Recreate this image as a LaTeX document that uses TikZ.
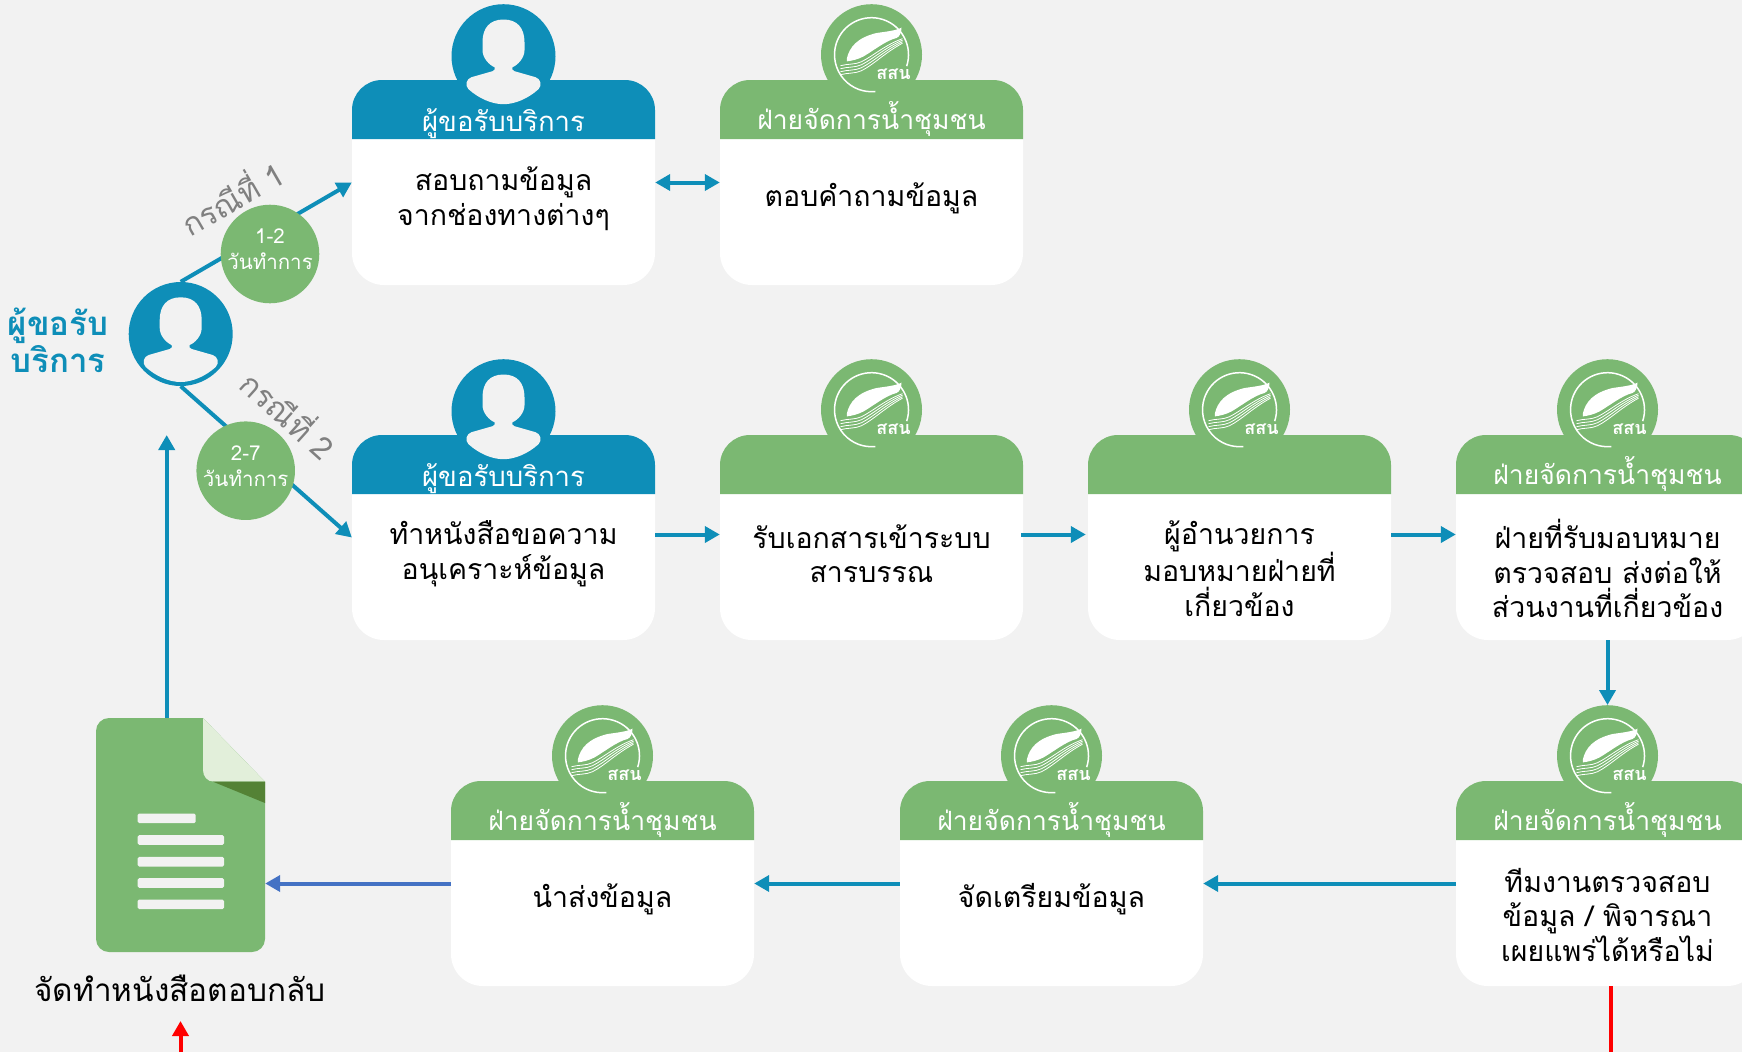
\documentclass[tikz,border=0pt]{standalone}
\usepackage{fontspec}
\setmainfont[Script=Thai]{Loma}
\usepackage{tikz}
\usetikzlibrary{arrows.meta,calc}
\definecolor{usercol}{HTML}{0E8EB8}
\definecolor{leafcol}{HTML}{7BB872}
\definecolor{foldcol}{HTML}{548235}
\definecolor{pagecol}{HTML}{E2EFDA}
\definecolor{bgcol}{HTML}{F2F2F2}
\definecolor{backcol}{HTML}{4472C4}
\tikzset{
  x=1pt,y=1pt,
  flow/.style={draw=usercol,line width=4pt,-{Triangle[length=15pt,width=16pt]}},
  cardbox/.style={fill=white,rounded corners=32pt,minimum width=303pt,minimum height=205pt,inner sep=0pt},
  usertitle/.style={text=white,anchor=base,font=\fontsize{27.5}{30}\selectfont},
  leaftitle/.style={text=white,anchor=base,yshift=1.5pt,font=\fontsize{26.5}{30}\selectfont},
  body/.style={text=black,align=center,font=\fontsize{28.5}{34.5}\selectfont},
  userball/.style={circle,fill=usercol,minimum size=104pt,inner sep=0pt},
  leafball/.style={circle,fill=leafcol,minimum size=101pt,inner sep=0pt},
  dayball/.style={circle,fill=leafcol,minimum size=98pt,inner sep=0pt,text depth=9pt,text=white,align=center,font=\fontsize{20.5}{26}\selectfont},
  caselabel/.style={text=black!50,font=\fontsize{31}{32}\selectfont},
  usericon/.pic={
    \fill[bgcol] (0,36.7) .. controls (14,36.7) and (21,28) .. (21,14) -- (21,6)
      .. controls (21,-2) and (14,-9) .. (9,-11) .. controls (8,-13) and (9,-14) .. (11,-15)
      -- (32,-21) .. controls (37,-22.5) and (39,-29) .. (35,-33)
      .. controls (25,-42) and (12,-48) .. (0,-48)
      .. controls (-12,-48) and (-25,-42) .. (-35,-33)
      .. controls (-39,-29) and (-37,-22.5) .. (-32,-21) -- (-11,-15)
      .. controls (-9,-14) and (-8,-13) .. (-9,-11) .. controls (-14,-9) and (-21,-2) .. (-21,6)
      -- (-21,14) .. controls (-21,28) and (-14,36.7) .. (0,36.7) -- cycle;
  },
  leaficon/.pic={
    \draw[white,line width=1.5pt] (-18:37) arc[start angle=-18,end angle=276,radius=37];
    \fill[white] (-24.7,-4) .. controls (-22,8) and (-14,17) .. (5,21.7)
      .. controls (14,23) and (24,24) .. (30,27) .. controls (30,22) and (28,18) .. (25,16.7)
      .. controls (14,14) and (2,4) .. (-8,-1.7) .. controls (-14,-5) and (-20,-6) .. (-24.7,-6.7) -- cycle;
    \foreach \d in {0,1,2,3}
      \draw[white,line width=.8pt] (31,{16-1.5*\d}) .. controls (14,{10-2.5*\d}) and (2,{-1-3*\d}) .. (-10,{-7-3*\d})
        .. controls (-16,{-10-3*\d}) and (-24,{-9-3*\d}) .. (-31,{-11-3*\d});
    \node[text=white,font=\bfseries\fontsize{18}{19}\selectfont] (logotext) at (22,-20) {สสน};
  },
}
% name, left x, top y, kind, title, text, text shift
\newcommand{\flowcard}[7]{
  \node[#4ball,anchor=north] (#1ball) at ({#2+151.5},{-#3+76}) {};
  \node[cardbox] (#1) at ({#2+151.5},{-#3-102.5}) {};
  \fill[#4col] ({#2},{-#3-59}) [rounded corners=30pt] -- ({#2},{-#3}) -- ({#2+303},{-#3})
    [sharp corners] -- ({#2+303},{-#3-59}) -- cycle;
  \pic at (#1ball) {#4icon};
  \node[#4title] (#1title) at ({#2+151.5},{-#3-51}) {#5};
  \node[body] (#1text) at ({#2+151.5},{-#3-118.5-#7}) {#6};
}
\begin{document}
\begin{tikzpicture}
\fill[bgcol] (0,0) rectangle (1742,-1052);
\useasboundingbox (0,0) rectangle (1742,-1052);
\clip (0,0) rectangle (1742,-1052);

% cards
\flowcard{ask}{352}{80}{user}{ผู้ขอรับบริการ}{สอบถามข้อมูล\\จากช่องทางต่างๆ}{0}
\flowcard{answer}{720}{80}{leaf}{ฝ่ายจัดการน้ำชุมชน}{ตอบคำถามข้อมูล}{0}
\flowcard{request}{352}{435}{user}{ผู้ขอรับบริการ}{ทำหนังสือขอความ\\อนุเคราะห์ข้อมูล}{0}
\flowcard{record}{720}{435}{leaf}{}{รับเอกสารเข้าระบบ\\สารบรรณ}{0}
\flowcard{assign}{1088}{435}{leaf}{}{ผู้อำนวยการ\\มอบหมายฝ่ายที่\\เกี่ยวข้อง}{15}
\flowcard{forward}{1456}{435}{leaf}{ฝ่ายจัดการน้ำชุมชน}{ฝ่ายที่รับมอบหมาย\\ตรวจสอบ ส่งต่อให้\\ส่วนงานที่เกี่ยวข้อง}{15}
\flowcard{check}{1456}{781}{leaf}{ฝ่ายจัดการน้ำชุมชน}{ทีมงานตรวจสอบ\\ข้อมูล / พิจารณา\\เผยแพร่ได้หรือไม่}{15}
\flowcard{prepare}{900}{781}{leaf}{ฝ่ายจัดการน้ำชุมชน}{จัดเตรียมข้อมูล}{0}
\flowcard{send}{451}{781}{leaf}{ฝ่ายจัดการน้ำชุมชน}{นำส่งข้อมูล}{0}

% applicant
\node[userball,minimum size=104pt] (person) at (180.7,-334) {};
\pic at (person) {usericon};
\node[text=usercol,align=center,font=\bfseries\fontsize{33}{37}\selectfont] (personlabel) at (58,-340) {ผู้ขอรับ\\บริการ};

% reply document
\node[inner sep=0pt,minimum width=169pt,minimum height=234pt] (doc) at (180.5,-835) {};
\fill[leafcol] (96,-835) [rounded corners=13pt] -- (96,-718) [sharp corners] -- (203,-718) -- (265,-781.7)
  [rounded corners=13pt] -- (265,-952) -- (96,-952) -- cycle;
\fill[pagecol] (203,-718) -- (265,-781.7) -- (214,-781.7) .. controls (207,-781.7) and (203,-776) .. (203,-770) -- cycle;
\fill[foldcol] (213,-781.7) -- (265,-781.7) -- (265,-803) -- cycle;
\foreach \y/\w in {818.3/195.7,840/224,861.7/224,883/224,904.3/224}
  \fill[bgcol,rounded corners=1.5pt] (137.7,-\y-4.8) rectangle (\w,-\y+4.8);
\node[text=black,font=\fontsize{31.5}{33}\selectfont] (doclabel) at (180,-988) {จัดทำหนังสือตอบกลับ};

% free ends
\coordinate (backtop) at (166.7,-435);
\coordinate (redstart) at (1611,-1052);
\coordinate (redend) at (180.5,-1021);
\coordinate (redbase) at (180.5,-1052);

% connectors
\draw[flow] (person.north) -- (ask.west);
\draw[flow] (person.south) -- (request.west);
\draw[flow,{Triangle[length=15pt,width=16pt]}-{Triangle[length=15pt,width=16pt]}] (ask.east) -- (answer.west);
\draw[flow] ([yshift=3pt]request.east) -- ([yshift=3pt]record.west);
\draw[flow] ([xshift=-2pt,yshift=3pt]record.east) -- ([xshift=-2pt,yshift=3pt]assign.west);
\draw[flow] ([yshift=3pt]assign.east) -- ([yshift=3pt]forward.west);
\draw[flow] (forward.south) -- (checkball.north);
\draw[flow] (check.west) -- (prepare.east);
\draw[flow] (prepare.west) -- (send.east);
\draw[flow,draw=backcol,-{Triangle[length=15pt,width=16pt,fill=backcol]}] (send.west) -- (send.west -| doc.east);
\draw[flow] (doc.north -| backtop) -- (backtop);
\draw[red,line width=4pt] (check.south -| redstart) -- (redstart);
\draw[red,line width=4pt,-{Triangle[length=15pt,width=16pt]}] (redbase) -- (redend);

% day counts and case labels
\node[dayball] (days1) at (270,-254) {1-2\\วันทำการ};
\node[dayball] (days2) at (245.7,-470.7) {2-7\\วันทำการ};
\node[caselabel,rotate=30] (case1) at (231,-196) {กรณีที่ 1};
\node[caselabel,rotate=-42] (case2) at (290,-413) {กรณีที่ 2};
\end{tikzpicture}
\end{document}
